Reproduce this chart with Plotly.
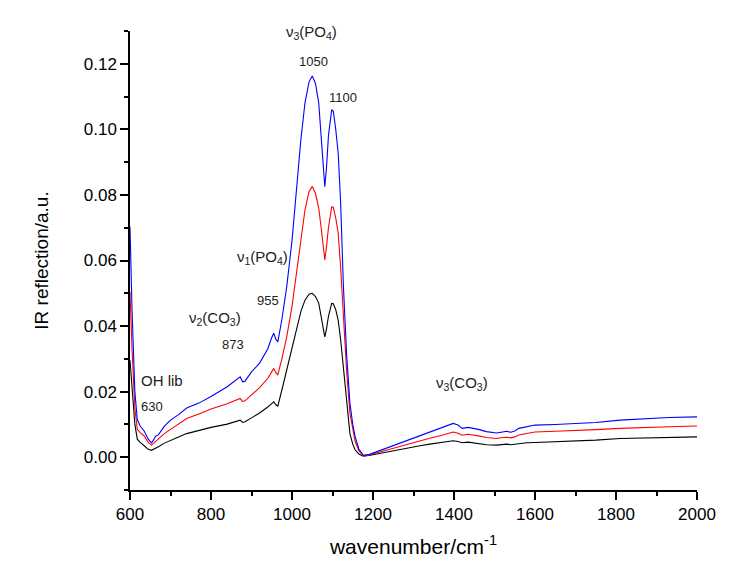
import plotly.graph_objects as go

wavenumber = [600, 605, 612, 618, 625, 635, 645, 653, 658, 663, 670, 685, 700, 720, 740, 770, 800, 840,
              872, 878, 884, 900, 920, 940, 950, 955, 960, 965, 975, 987, 1000, 1012, 1022, 1032, 1042,
              1050, 1058, 1066, 1072, 1077, 1081, 1085, 1090, 1098, 1102, 1108, 1114, 1120, 1127, 1135,
              1143, 1150, 1156, 1165, 1176, 1190, 1210, 1234, 1260, 1290, 1316, 1340, 1370, 1398, 1410,
              1420, 1435, 1448, 1460, 1480, 1505, 1520, 1530, 1540, 1550, 1560, 1580, 1600, 1650, 1700,
              1750, 1810, 1870, 1930, 2000]

blue = [0.0703, 0.045, 0.020, 0.0115, 0.0095, 0.008, 0.0055, 0.0044, 0.0052, 0.0064, 0.0068, 0.0095,
        0.0113, 0.013, 0.015, 0.0165, 0.0185, 0.0215, 0.0245, 0.023, 0.0232, 0.026, 0.0287, 0.033,
        0.0365, 0.0378, 0.036, 0.0352, 0.042, 0.052, 0.066, 0.0825, 0.097, 0.108, 0.1145, 0.1163,
        0.114, 0.108, 0.098, 0.088, 0.0825, 0.088, 0.098, 0.106, 0.1055, 0.100, 0.0928, 0.078, 0.052,
        0.031, 0.0165, 0.010, 0.0062, 0.0025, 0.0006, 0.0008, 0.0017, 0.0027, 0.004, 0.0052, 0.0065,
        0.0076, 0.0088, 0.0103, 0.0098, 0.0088, 0.0091, 0.0089, 0.0085, 0.0078, 0.0074, 0.0077,
        0.0079, 0.0076, 0.0080, 0.0088, 0.0093, 0.0098, 0.0100, 0.0102, 0.0106, 0.0113, 0.0117,
        0.0121, 0.0123]

red = [0.0505, 0.033, 0.015, 0.0085, 0.0075, 0.0065, 0.0045, 0.0037, 0.0042, 0.0048, 0.0055, 0.0072,
       0.0085, 0.0102, 0.0118, 0.0132, 0.0147, 0.0163, 0.0179, 0.0170, 0.0172, 0.0190, 0.0212, 0.0240,
       0.0262, 0.0271, 0.0258, 0.0252, 0.0300, 0.0367, 0.0460, 0.0571, 0.067, 0.0754, 0.0810, 0.0826,
       0.0805, 0.0760, 0.070, 0.064, 0.0602, 0.064, 0.070, 0.0764, 0.0762, 0.0730, 0.0684, 0.058,
       0.0418, 0.026, 0.0134, 0.0080, 0.0048, 0.0020, 0.0005, 0.0007, 0.0014, 0.0022, 0.0031, 0.0041,
       0.0050, 0.0058, 0.0067, 0.0077, 0.0073, 0.0067, 0.0070, 0.0068, 0.0065, 0.0060, 0.0057, 0.0060,
       0.0061, 0.0059, 0.0062, 0.0068, 0.0072, 0.0077, 0.0079, 0.0081, 0.0084, 0.0088, 0.0091, 0.0093,
       0.0095]

black = [0.0296, 0.020, 0.010, 0.0055, 0.0045, 0.0035, 0.0024, 0.0021, 0.0024, 0.0027, 0.0032, 0.0043,
         0.0052, 0.0062, 0.0072, 0.0082, 0.0091, 0.0101, 0.0113, 0.0106, 0.0108, 0.0120, 0.0135, 0.0153,
         0.0165, 0.0169, 0.0160, 0.0156, 0.0205, 0.0266, 0.033, 0.0398, 0.0445, 0.0479, 0.0497, 0.0500,
         0.0490, 0.0470, 0.0430, 0.0385, 0.0367, 0.0390, 0.0430, 0.0469, 0.0468, 0.0450, 0.0418, 0.0360,
         0.0266, 0.0160, 0.0072, 0.0040, 0.0022, 0.0010, 0.0003, 0.0005, 0.0010, 0.0016, 0.0022, 0.0028,
         0.0035, 0.0040, 0.0045, 0.0050, 0.0048, 0.0044, 0.0046, 0.0044, 0.0041, 0.0038, 0.0037, 0.0039,
         0.0040, 0.0038, 0.0040, 0.0042, 0.0044, 0.0045, 0.0047, 0.0049, 0.0052, 0.0057, 0.0059, 0.0061,
         0.0062]

labels = ["ν<sub>3</sub>(PO<sub>4</sub>)", "1050", "1100", "ν<sub>1</sub>(PO<sub>4</sub>)", "955",
          "ν<sub>2</sub>(CO<sub>3</sub>)", "873", "OH lib", "630", "ν<sub>3</sub>(CO<sub>3</sub>)"]
label_x = [1049, 1054, 1126, 928, 941, 810, 854, 679, 654, 1420]
label_y = [0.1296, 0.1206, 0.1098, 0.0608, 0.0479, 0.0424, 0.0345, 0.0235, 0.0156, 0.0226]
label_size = [15, 13, 13, 15, 13, 15, 13, 15, 13, 15]

fig = go.Figure()
for ys, col in [(black, "#000000"), (red, "#ff0000"), (blue, "#0000ff")]:
    fig.add_trace(go.Scatter(x=wavenumber, y=ys, mode="lines",
                             line=dict(color=col, width=1.1), showlegend=False))

for t, x, y, s in zip(labels, label_x, label_y, label_size):
    fig.add_annotation(x=x, y=y, text=t, showarrow=False, xref="x", yref="y",
                       font=dict(size=s, color="#222222", family="Liberation Sans, Arial"))

axis_common = dict(showgrid=False, zeroline=False, showline=True, linecolor="#000000", linewidth=1.5,
                   ticks="outside", ticklen=8, tickwidth=1.5, tickcolor="#000000",
                   tickfont=dict(size=17, color="#000000", family="Liberation Sans, Arial"))

fig.update_layout(
    width=721, height=570,
    margin=dict(l=122, r=32, t=23, b=88),
    paper_bgcolor="white", plot_bgcolor="white",
    font=dict(family="Liberation Sans, Arial", color="#000000"),
    xaxis=dict(range=[600, 2000], dtick=200, tick0=600,
               minor=dict(dtick=100, ticks="outside", ticklen=4, tickwidth=1.5, tickcolor="#000000"),
               title=dict(text="wavenumber/cm<sup>-1</sup>", font=dict(size=21), standoff=16),
               **axis_common),
    yaxis=dict(range=[-0.01, 0.13], dtick=0.02, tick0=0, tickformat=".2f",
               minor=dict(dtick=0.01, ticks="outside", ticklen=4, tickwidth=1.5, tickcolor="#000000"),
               title=dict(text="IR reflection/a.u.", font=dict(size=19), standoff=30),
               **axis_common),
)

fig.write_html("out.html")
